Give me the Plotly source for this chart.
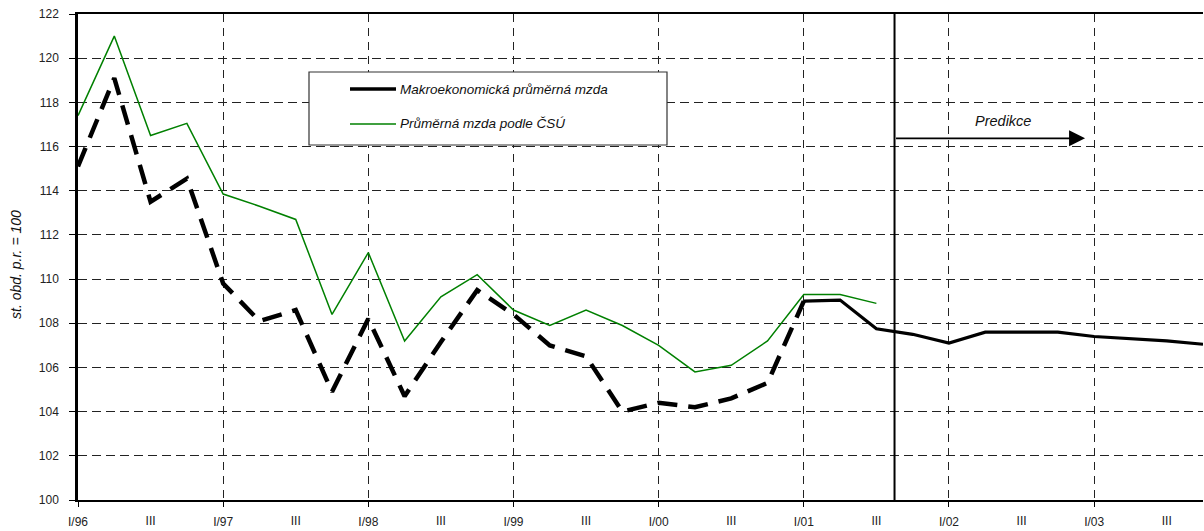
import plotly.graph_objects as go

# Quarters I/96 .. IV/03
quarters = [
    "I/96", "II/96", "III/96", "IV/96",
    "I/97", "II/97", "III/97", "IV/97",
    "I/98", "II/98", "III/98", "IV/98",
    "I/99", "II/99", "III/99", "IV/99",
    "I/00", "II/00", "III/00", "IV/00",
    "I/01", "II/01", "III/01", "IV/01",
    "I/02", "II/02", "III/02", "IV/02",
    "I/03", "II/03", "III/03", "IV/03",
]

# Macroeconomic average wage (index, same period previous year = 100)
macro_wage = [115.1, 119.1, 113.5, 114.55, 109.8, 108.1, 108.6, 104.9,
              108.2, 104.7, 107.15, 109.5, 108.4, 107.0, 106.5, 104.0,
              104.4, 104.2, 104.6, 105.3, 109.0, 109.05, 107.75, 107.5,
              107.1, 107.6, 107.6, 107.6, 107.4, 107.3, 107.2, 107.05]

# Average wage according to CZSO
csu_wage = [117.4, 121.0, 116.5, 117.05, 113.85, 113.3, 112.7, 108.4,
            111.2, 107.2, 109.2, 110.2, 108.6, 107.9, 108.6, 107.9,
            107.0, 105.8, 106.1, 107.2, 109.3, 109.3, 108.9]

# index of the last estimated quarter drawn dashed (I/01)
last_dashed = quarters.index("I/01")
# boundary between actual data and forecast
forecast_start = quarters.index("III/01") + 0.5
forecast_arrow_end = 27.75

x_all = list(range(len(quarters)))
y_range = [100, 122]
x_range = [0, len(quarters) - 1]

year_ticks = [i for i, q in enumerate(quarters) if q.startswith("I/")]
year_text = [quarters[i] for i in year_ticks]
mid_ticks = [i for i, q in enumerate(quarters) if q.startswith("III/")]
mid_text = ["III" for _ in mid_ticks]

FONT = "Liberation Sans, Arial, sans-serif"
W, H = 1204, 531
ML, MR, MT, MB = 78, 1, 14, 31
PW, PH = W - ML - MR, H - MT - MB


def px_x(px):
    return (px - ML) / PW


def px_y(py):
    return (H - MB - py) / PH


fig = go.Figure()

fig.add_trace(go.Scatter(
    x=x_all[:last_dashed + 1], y=macro_wage[:last_dashed + 1],
    mode="lines", line=dict(color="black", width=4.5, dash="20px,11px"),
    showlegend=False, hoverinfo="skip",
))
fig.add_trace(go.Scatter(
    x=x_all[last_dashed:], y=macro_wage[last_dashed:],
    mode="lines", line=dict(color="black", width=3.2),
    showlegend=False,
))
# CZSO series sits on the overlay axis that carries the "III" labels
fig.add_trace(go.Scatter(
    x=x_all[:len(csu_wage)], y=csu_wage, xaxis="x2", yaxis="y",
    mode="lines", line=dict(color="#008000", width=1.5),
    showlegend=False,
))

# forecast divider
fig.add_shape(type="line", xref="x", yref="y",
              x0=forecast_start, x1=forecast_start, y0=y_range[0], y1=y_range[1],
              line=dict(color="black", width=2))

# legend box
fig.add_shape(type="rect", xref="paper", yref="paper",
              x0=px_x(309), x1=px_x(667), y0=px_y(145), y1=px_y(72),
              line=dict(color="#333", width=1.2), fillcolor="white", layer="above")
fig.add_shape(type="line", xref="paper", yref="paper",
              x0=px_x(350), x1=px_x(396), y0=px_y(89), y1=px_y(89),
              line=dict(color="black", width=3.5), layer="above")
fig.add_shape(type="line", xref="paper", yref="paper",
              x0=px_x(350), x1=px_x(396), y0=px_y(124), y1=px_y(124),
              line=dict(color="#008000", width=1.5), layer="above")

legend_font = dict(family=FONT, size=13.5, style="italic", color="#111")
annotations = [
    dict(text="Makroekonomická průměrná mzda", xref="paper", yref="paper",
         x=px_x(398), y=px_y(89), xanchor="left", yanchor="middle",
         showarrow=False, font=legend_font),
    dict(text="Průměrná mzda podle ČSÚ", xref="paper", yref="paper",
         x=px_x(398), y=px_y(124), xanchor="left", yanchor="middle",
         showarrow=False, font=legend_font),
    dict(text="st. obd. p.r. = 100", xref="paper", yref="paper",
         x=px_x(16), y=px_y(265), xanchor="center", yanchor="middle",
         textangle=-90, showarrow=False,
         font=dict(family=FONT, size=14, style="italic", color="#111")),
    dict(text="Predikce", xref="x", yref="y", x=25.49, y=117.15,
         xanchor="center", yanchor="middle", showarrow=False,
         font=dict(family=FONT, size=14.5, style="italic", color="#111")),
    dict(text="", xref="x", yref="y", axref="x", ayref="y",
         x=forecast_arrow_end, y=116.37, ax=forecast_start, ay=116.37,
         showarrow=True, arrowhead=2, arrowsize=2.0, arrowwidth=1.6,
         arrowcolor="black", standoff=0),
]

tick_font = dict(family=FONT, size=12, color="#222")

fig.update_layout(
    width=W, height=H,
    margin=dict(l=ML, r=MR, t=MT, b=MB, pad=0),
    paper_bgcolor="white", plot_bgcolor="white",
    showlegend=False,
    annotations=annotations,
    font=dict(family=FONT, size=12, color="#222"),
    xaxis=dict(
        range=x_range, tickmode="array", tickvals=year_ticks, ticktext=year_text,
        showgrid=True, gridcolor="#222", gridwidth=1, griddash="8px,6px",
        ticks="outside", ticklen=5, tickcolor="black", tickwidth=1,
        ticklabelstandoff=5,
        showline=True, linecolor="black", linewidth=2, mirror=True,
        zeroline=False, tickfont=tick_font,
    ),
    xaxis2=dict(
        range=x_range, overlaying="x", anchor="y", side="bottom",
        tickmode="array", tickvals=mid_ticks, ticktext=mid_text,
        showgrid=False, showline=False, zeroline=False,
        ticks="outside", ticklen=5, tickcolor="rgba(0,0,0,0)",
        ticklabelstandoff=5,
        tickfont=tick_font,
    ),
    yaxis=dict(
        range=y_range, tickmode="linear", tick0=100, dtick=2,
        showgrid=True, gridcolor="#222", gridwidth=1, griddash="9px,5px",
        ticks="outside", ticklen=6, tickcolor="black", tickwidth=1,
        ticklabelstandoff=8,
        showline=True, linecolor="black", linewidth=2.5,
        zeroline=False, tickfont=tick_font,
    ),
)

fig.write_html("out.html")
